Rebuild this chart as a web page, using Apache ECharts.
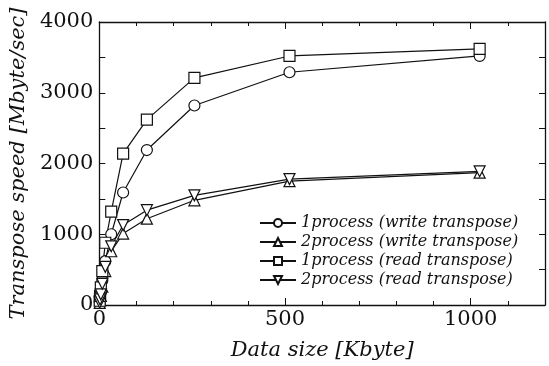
<!DOCTYPE html>
<html>
<head>
<meta charset="utf-8">
<script src="https://cdn.jsdelivr.net/npm/echarts@6/dist/echarts.min.js"></script>
<style>
  html, body { margin: 0; padding: 0; background: #fff; }
  #main { width: 549px; height: 366px; }
</style>
</head>
<body>
<div id="main"></div>
<script>
// data size in Kbyte
const dataSize = [1, 2, 4, 8, 16, 32, 64, 128, 256, 512, 1024];
// transpose speed in Mbyte/sec
const writeOneProc = [45, 90, 180, 350, 620, 1000, 1590, 2190, 2820, 3290, 3520];
const writeTwoProc = [30, 70, 130, 260, 480, 760, 1010, 1220, 1480, 1750, 1870];
const readOneProc = [60, 130, 250, 480, 880, 1320, 2140, 2620, 3210, 3520, 3620];
const readTwoProc = [35, 80, 150, 300, 540, 830, 1130, 1340, 1550, 1780, 1890];
const seriesNames = [
  '1process (write transpose)',
  '2process (write transpose)',
  '1process (read transpose)',
  '2process (read transpose)'
];

window.onload = function () {
  const chartDom = document.getElementById('main');
  const myChart = echarts.init(chartDom);
  const font = '"DejaVu Serif", "Liberation Serif", serif';

  function pairs(ys) {
    return dataSize.map(function (x, i) { return [x, ys[i]]; });
  }

  function makeSeries(name, ys, symbol) {
    return {
      name: name,
      type: 'line',
      data: pairs(ys),
      symbol: symbol,
      symbolSize: 11,
      lineStyle: { color: '#111', width: 1.2 },
      itemStyle: { color: '#fff', borderColor: '#111', borderWidth: 1.2 },
      emphasis: { disabled: true },
      z: 3
    };
  }

  const downTri = 'path://M0,0L10,0L5,9Z';
  const upTri = 'path://M5,0L10,9L0,9Z';

  // onZero off, otherwise the top/right axes sit on the zero line
  const axisLine = { show: true, onZero: false, lineStyle: { color: '#111', width: 1.3 } };
  const plain = function (v) { return String(v); };

  const option = {
    backgroundColor: '#fff',
    animation: false,
    grid: { left: 98, right: 4, top: 22, bottom: 59 },
    legend: {
      orient: 'vertical',
      left: 254,
      top: 209,
      itemWidth: 36,
      itemHeight: 10,
      itemGap: 1,
      data: seriesNames,
      textStyle: { fontFamily: font, fontStyle: 'italic', fontSize: 16, lineHeight: 18, color: '#111' }
    },
    xAxis: [
      {
        type: 'value', min: 0, max: 1200, interval: 500,
        position: 'bottom',
        name: 'Data size [Kbyte]',
        nameLocation: 'middle',
        nameGap: 35,
        nameTextStyle: { fontFamily: font, fontStyle: 'italic', fontSize: 21, color: '#111' },
        axisLine: axisLine,
        axisTick: { inside: true, length: 7, lineStyle: { color: '#111' } },
        minorTick: { show: true, splitNumber: 5, length: 4, lineStyle: { color: '#111' } },
        axisLabel: {
          fontFamily: font, fontSize: 21, color: '#111', margin: 4,
          formatter: function (v) { return v % 500 === 0 ? String(v) : ''; }
        },
        splitLine: { show: false }
      },
      {
        type: 'value', min: 0, max: 1200, interval: 500,
        position: 'top',
        axisLine: axisLine,
        axisTick: { inside: true, length: 7, lineStyle: { color: '#111' } },
        minorTick: { show: true, splitNumber: 5, length: 4, lineStyle: { color: '#111' } },
        axisLabel: { show: false },
        splitLine: { show: false }
      }
    ],
    yAxis: [
      {
        type: 'value', min: 0, max: 4000, interval: 1000,
        position: 'left',
        name: 'Transpose speed [Mbyte/sec]',
        nameLocation: 'middle',
        nameGap: 64,
        nameTextStyle: { fontFamily: font, fontStyle: 'italic', fontSize: 21, color: '#111' },
        axisLine: axisLine,
        axisTick: { show: true, inside: true, length: 6, lineStyle: { color: '#111' } },
        minorTick: { show: true, splitNumber: 2, length: 6, lineStyle: { color: '#111' } },
        axisLabel: { fontFamily: font, fontSize: 21, color: '#111', margin: 6, formatter: plain },
        splitLine: { show: false }
      },
      {
        type: 'value', min: 0, max: 4000, interval: 1000,
        position: 'right',
        axisLine: axisLine,
        axisTick: { show: true, inside: true, length: 6, lineStyle: { color: '#111' } },
        minorTick: { show: true, splitNumber: 2, length: 6, lineStyle: { color: '#111' } },
        axisLabel: { show: false },
        splitLine: { show: false }
      }
    ],
    series: [
      makeSeries(seriesNames[0], writeOneProc, 'circle'),
      makeSeries(seriesNames[1], writeTwoProc, upTri),
      makeSeries(seriesNames[2], readOneProc, 'rect'),
      makeSeries(seriesNames[3], readTwoProc, downTri)
    ]
  };

  option && myChart.setOption(option);
};
</script>
</body>
</html>
